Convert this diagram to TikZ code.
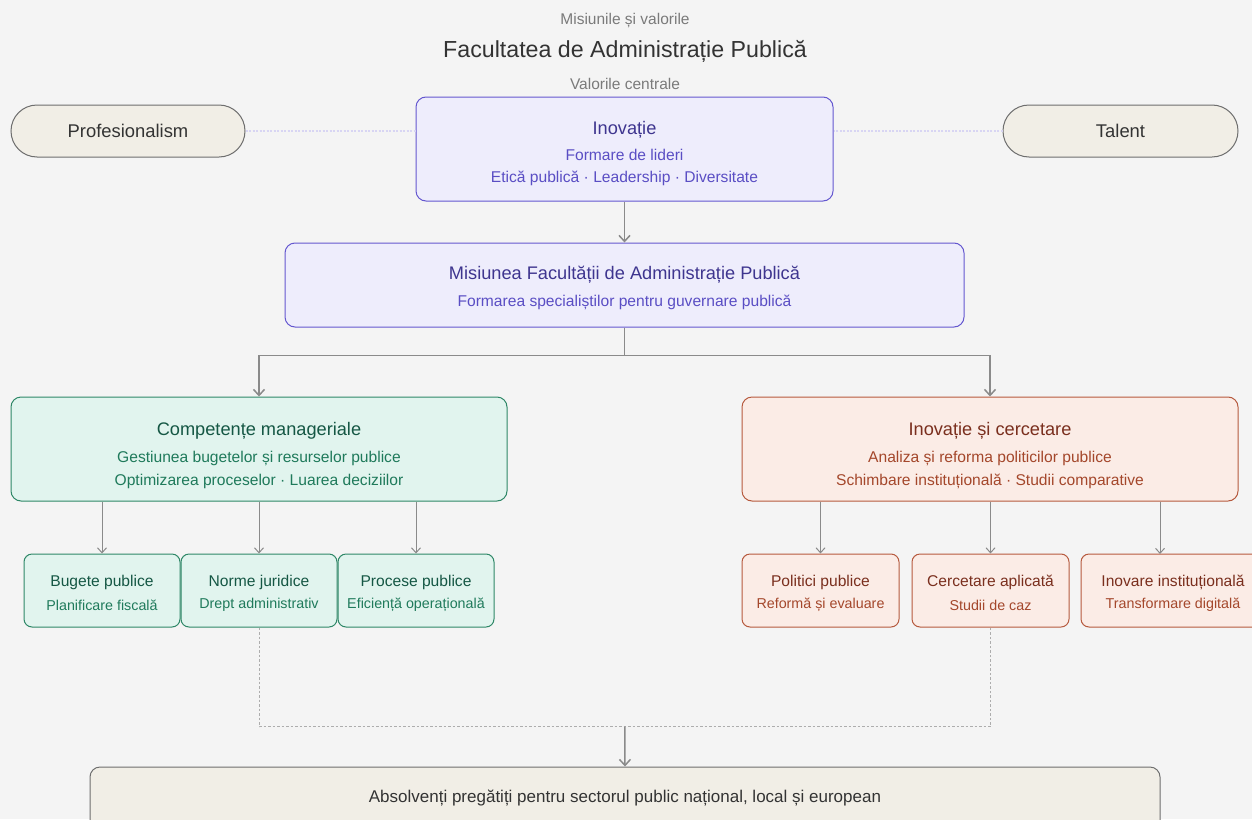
\documentclass[tikz,border=0pt]{standalone}
\usepackage{fontspec}
\setmainfont{Liberation Sans}
\usetikzlibrary{arrows.meta,positioning,calc}

\definecolor{pagebg}{HTML}{F4F4F4}
\definecolor{inkgray}{HTML}{333333}
\definecolor{softgray}{HTML}{7A7A7A}
\definecolor{linkgray}{HTML}{8A8A8A}
\definecolor{pillfill}{HTML}{F1EEE6}
\definecolor{pillline}{HTML}{6E6E6E}
\definecolor{purplefill}{HTML}{EEEDFC}
\definecolor{purpleline}{HTML}{6457CF}
\definecolor{purpletitle}{HTML}{3E358F}
\definecolor{purpletext}{HTML}{5A4EC4}
\definecolor{greenfill}{HTML}{E1F4EE}
\definecolor{greenline}{HTML}{2E8767}
\definecolor{greentitle}{HTML}{155744}
\definecolor{greentext}{HTML}{1F7A5B}
\definecolor{redfill}{HTML}{FBECE6}
\definecolor{redline}{HTML}{B65A3E}
\definecolor{redtitle}{HTML}{7A2F1E}
\definecolor{redtext}{HTML}{A4472B}

\tikzset{
  box/.style={draw, line width=1pt, rounded corners=10pt, inner sep=0pt},
  pill/.style={box, rounded corners=26pt, draw=pillline, fill=pillfill,
    text=inkgray, font=\fontsize{18.4}{22}\selectfont},
  purplebox/.style={box, draw=purpleline, fill=purplefill},
  greenbox/.style={box, draw=greenline, fill=greenfill},
  redbox/.style={box, draw=redline, fill=redfill},
  kidgreen/.style={greenbox, rounded corners=8pt, minimum width=156pt, minimum height=73pt},
  kidred/.style={redbox, rounded corners=8pt, minimum width=157pt, minimum height=73pt},
  bigtitle/.style={font=\fontsize{18.2}{22}\selectfont},
  bigsub/.style={font=\fontsize{15.6}{19}\selectfont},
  kidtitle/.style={font=\fontsize{15.6}{19}\selectfont},
  kidsub/.style={font=\fontsize{14.3}{17}\selectfont},
  link/.style={draw=linkgray, line width=1.5pt, -{Straight Barb[length=6pt,width=11pt]}},
  thinlink/.style={draw=linkgray, line width=1pt, -{Straight Barb[length=5pt,width=9pt]}},
  dashlink/.style={draw=linkgray!70, line width=0.8pt, dash pattern=on 2.5pt off 2pt},
  softlink/.style={draw=purpleline!25, line width=1.2pt, dash pattern=on 2pt off 1.5pt},
}

\begin{document}
\begin{tikzpicture}[x=1pt, y=-1pt]
\fill[pagebg] (0,0) rectangle (1252,819);
\useasboundingbox (0,0) rectangle (1252,819);

% heading
\node[text=softgray, font=\fontsize{15.5}{18}\selectfont] (kicker) at (625,21) {Misiunile și valorile};
\node[text=inkgray, font=\fontsize{23.2}{27}\selectfont] (title) at (625,51) {Facultatea de Administrație Publică};
\node[text=softgray, font=\fontsize{15.5}{18}\selectfont] (values) at (625,84) {Valorile centrale};

% core values
\node[pill, minimum width=234pt, minimum height=52pt] (prof) at (128,131) {Profesionalism};
\node[pill, minimum width=235pt, minimum height=52pt] (talent) at (1120.5,131) {Talent};
\node[purplebox, minimum width=417pt, minimum height=104pt] (inov) at (624.5,149) {};
\node[bigtitle, text=purpletitle] (inovT) at (624.5,130) {Inovație};
\node[bigsub, text=purpletext] (inovA) at (624.5,155) {Formare de lideri};
\node[bigsub, text=purpletext] (inovB) at (624.5,178) {Etică publică · Leadership · Diversitate};
\draw[softlink] (prof.east) -- (prof.east -| inov.west);
\draw[softlink] (talent.west) -- (talent.west -| inov.east);

% mission
\node[purplebox, minimum width=679pt, minimum height=84pt] (mis) at (624.5,285) {};
\node[bigtitle, text=purpletitle] (misT) at (624.5,275) {Misiunea Facultății de Administrație Publică};
\node[bigsub, text=purpletext] (misA) at (624.5,302) {Formarea specialiștilor pentru guvernare publică};
\draw[link] (inov) -- (mis);

% two pillars
\node[greenbox, minimum width=496pt, minimum height=104pt] (manag) at (259,449) {};
\node[bigtitle, text=greentitle] (managT) at (259,431) {Competențe manageriale};
\node[bigsub, text=greentext] (managA) at (259,458) {Gestiunea bugetelor și resurselor publice};
\node[bigsub, text=greentext] (managB) at (259,481) {Optimizarea proceselor · Luarea deciziilor};

\node[redbox, minimum width=496pt, minimum height=104pt] (cerc) at (990,449) {};
\node[bigtitle, text=redtitle] (cercT) at (990,431) {Inovație și cercetare};
\node[bigsub, text=redtext] (cercA) at (990,458) {Analiza și reforma politicilor publice};
\node[bigsub, text=redtext] (cercB) at (990,481) {Schimbare instituțională · Studii comparative};

\draw[link] (mis.south) -- ++(0,28) -| (manag.north);
\draw[link] (mis.south) -- ++(0,28) -| (cerc.north);

% green children
\node[kidgreen] (bug) at (102,590.5) {};
\node[kidgreen] (norm) at (259,590.5) {};
\node[kidgreen] (proc) at (416,590.5) {};
\foreach \k/\t/\s in {bug/Bugete publice/Planificare fiscală,
                      norm/Norme juridice/Drept administrativ,
                      proc/Procese publice/Eficiență operațională} {
  \node[kidtitle, text=greentitle] (\k T) at ($(\k.center)+(0,-8.5)$) {\t};
  \node[kidsub, text=greentext] (\k S) at ($(\k.center)+(0,14.5)$) {\s};
  \draw[thinlink] (manag.south -| \k.north) -- (\k.north);
}

% red children
\node[kidred] (pol) at (820.5,590.5) {};
\node[kidred] (apl) at (990.5,590.5) {};
\node[kidred, minimum width=184pt] (inst) at (1173,590.5) {};
\foreach \k/\t/\s in {pol/Politici publice/Reformă și evaluare,
                      apl/Cercetare aplicată/Studii de caz,
                      inst/Inovare instituțională/Transformare digitală} {
  \node[kidtitle, text=redtitle] (\k T) at ($(\k.center)+(0,-8.5)$) {\t};
  \node[kidsub, text=redtext] (\k S) at ($(\k.center)+(0,14.5)$) {\s};
}
\coordinate (instTop) at (1160,554);
\draw[thinlink] (cerc.south -| pol.north) -- (pol.north);
\draw[thinlink] (cerc.south -| apl.north) -- (apl.north);
\draw[thinlink] (cerc.south -| instTop) -- (instTop);

% outcome
\node[box, draw=pillline, fill=pillfill, minimum width=1070pt, minimum height=72pt] (grad) at (625,803) {};
\node[text=inkgray, font=\fontsize{17}{20}\selectfont] (gradT) at (625,798) {Absolvenți pregătiți pentru sectorul public național, local și european};
\coordinate (join) at ($(norm.south)!0.5!(apl.south)+(0,99)$);
\draw[dashlink] (norm.south) -- ++(0,99) -| (apl.south);
\draw[link] (join) -- (grad.north);
\end{tikzpicture}
\end{document}
